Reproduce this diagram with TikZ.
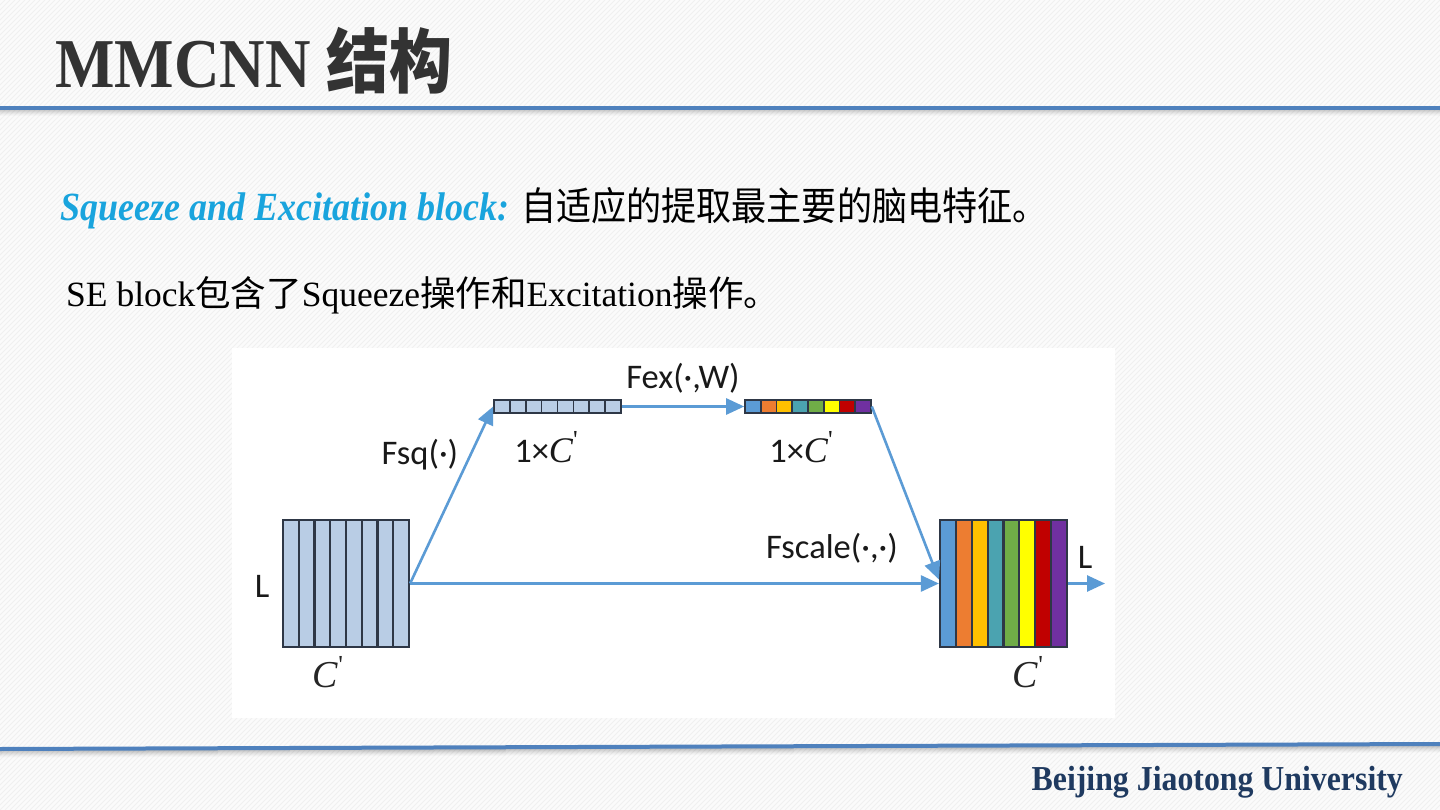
\documentclass[tikz,border=0pt]{standalone}
\usepackage{fontspec}
\setmainfont{Liberation Serif}
\newfontfamily\cjk{Noto Sans CJK SC}
\newfontfamily\calib{Carlito}
\usetikzlibrary{arrows.meta,calc}
\definecolor{bgc}{HTML}{FBFBFB}
\definecolor{hatch}{HTML}{F0F0F0}
\definecolor{hdr}{HTML}{4F81BD}
\definecolor{titlec}{HTML}{333333}
\definecolor{cyant}{HTML}{19A4DD}
\definecolor{footc}{HTML}{1F3A60}
\definecolor{lblue}{HTML}{B9CDE5}
\definecolor{edgec}{HTML}{2E3746}
\definecolor{arr}{HTML}{5B9BD5}
\definecolor{c1}{HTML}{5B9BD5}
\definecolor{c2}{HTML}{ED7D31}
\definecolor{c3}{HTML}{FFC000}
\definecolor{c4}{HTML}{4BA3B0}
\definecolor{c5}{HTML}{70AD47}
\definecolor{c6}{HTML}{FFFF00}
\definecolor{c7}{HTML}{C00000}
\definecolor{c8}{HTML}{7030A0}
\tikzset{
  squeezed/.style={xscale=0.9, transform shape, inner sep=0pt},
  plain/.style={inner sep=0pt},
  blk/.style={draw=edgec, line width=2.2pt, inner sep=0pt},
  flow/.style={draw=arr, line width=2.6pt, -{Triangle[length=18pt,width=16pt]}},
  dlabel/.style={font=\calib\fontsize{34.5}{40}\selectfont, text=black!90, inner sep=0pt},
  clabel/.style={font=\fontsize{38}{42}\selectfont\itshape, text=black!85, inner sep=0pt},
}
\newcommand{\cprime}{C\raisebox{0.38em}{\upshape\fontsize{26}{26}\selectfont\textquotesingle}}
\begin{document}
\begin{tikzpicture}[x=1pt,y=-1pt]
\useasboundingbox (0,0) rectangle (1440,810);
\fill[bgc] (0,0) rectangle (1440,810);
\foreach \k in {-810,-805,...,1440}
  \draw[hatch, line width=0.8pt] (\k,810) -- (\k+810,0);
% header line with shadow
\foreach \i/\o in {1/0.22,2/0.18,3/0.14,4/0.10,5/0.07,6/0.04,7/0.02}
  \draw[black, opacity=\o, line width=1pt] (0,109+\i) -- (1440,109+\i);
\draw[hdr, line width=4pt] (0,108) -- (1440,108);
% footer line with shadow
\foreach \i/\o in {1/0.22,2/0.18,3/0.14,4/0.10,5/0.07,6/0.04,7/0.02}
  \draw[black, opacity=\o, line width=1pt] (0,750+\i) -- (1440,745+\i);
\draw[hdr, line width=4pt] (0,749) -- (1440,744);

% title
\node[squeezed, anchor=base west, text=titlec, font=\fontsize{70}{80}\selectfont\bfseries] (title) at (55,88)
  {MMCNN {\cjk\bfseries 结构}};
% text lines
\node[squeezed, anchor=base west, font=\fontsize{40}{44}\selectfont] (line1) at (60,221)
  {\textcolor{cyant}{\bfseries\itshape Squeeze and Excitation block:} {\cjk\fontsize{39}{44}\selectfont 自适应的提取最主要的脑电特征。}};
\node[plain, anchor=base west, font=\fontsize{35.5}{42}\selectfont] (line2) at (66,306)
  {SE block{\cjk 包含了}Squeeze{\cjk 操作和}Excitation{\cjk 操作。}};
% footer text
\node[squeezed, xscale=1.01, anchor=base east, text=footc, font=\fontsize{35}{40}\selectfont\bfseries] (foot) at (1403,790)
  {Beijing Jiaotong University};

% figure area
\fill[white] (232,348) rectangle (1115,718);

% left block stripes
\foreach \i in {0,...,7}
  \filldraw[fill=lblue, draw=edgec, line width=2.2pt] (283+\i*15.75,520) rectangle (298.75+\i*15.75,647);
\node[blk, minimum width=126pt, minimum height=127pt] (lb) at (346,583.5) {};
% top grey-blue bar
\foreach \i in {0,...,7}
  \filldraw[fill=lblue, draw=edgec, line width=1.6pt] (494+\i*15.875,400) rectangle (509.875+\i*15.875,413);
\node[blk, line width=1.6pt, minimum width=127pt, minimum height=13pt] (tb) at (557.5,406.5) {};
% coloured bar
\foreach \c [count=\i from 0] in {c1,c2,c3,c4,c5,c6,c7,c8}
  \filldraw[fill=\c, draw=edgec, line width=1.6pt] (745+\i*15.75,400) rectangle (760.75+\i*15.75,413);
\node[blk, line width=1.6pt, minimum width=126pt, minimum height=13pt] (cb) at (808,406.5) {};
% right block
\foreach \c [count=\i from 0] in {c1,c2,c3,c4,c5,c6,c7,c8}
  \filldraw[fill=\c, draw=edgec, line width=2.2pt] (940+\i*15.875,520) rectangle (955.875+\i*15.875,647);
\node[blk, minimum width=127pt, minimum height=127pt] (rb) at (1003.5,583.5) {};
\coordinate (out) at (1105,583.5);

% connectors
\draw[flow] (lb.east) -- (tb.west);
\draw[flow] (lb.east) -- (rb.west);
\draw[flow] (tb.east) -- (cb.west);
\draw[flow] (cb.east) -- ($(rb.west)+(0,-4)$);
\draw[flow] (rb.east) -- (out);

% labels
\node[dlabel] (fsq) at (420,455) {Fsq(·)};
\node[dlabel] (fex) at (683,378) {Fex(·,W)};
\node[dlabel] (fsc) at (832,548) {Fscale(·,·)};
\node[dlabel] (ll) at (262,586) {L};
\node[dlabel] (lr) at (1085,557) {L};
\node[dlabel] (d1) at (546,447) {1×{\fontsize{36}{40}\selectfont\rmfamily\itshape\cprime}};
\node[dlabel] (d2) at (801,447) {1×{\fontsize{36}{40}\selectfont\rmfamily\itshape\cprime}};
\node[clabel] (cl) at (328,672) {\cprime};
\node[clabel] (cr) at (1028,672) {\cprime};
\end{tikzpicture}
\end{document}
